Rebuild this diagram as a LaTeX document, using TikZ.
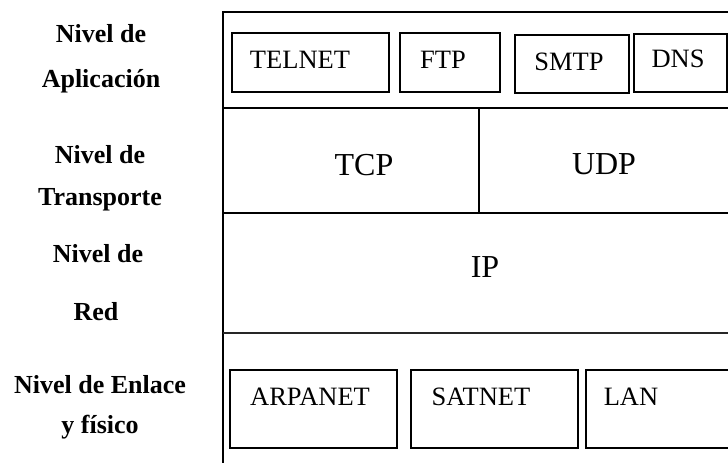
\documentclass[tikz,border=0pt]{standalone}
\usepackage{fontspec}
\setmainfont{Liberation Serif}
\begin{document}
\begin{tikzpicture}[x=1pt,y=-1pt,
  frame/.style={line width=2.4pt},
  thinrule/.style={line width=1.5pt, black!85},
  protobox/.style={draw, line width=1.8pt, rectangle, inner sep=0pt, anchor=north west},
  layername/.style={font=\fontsize{26}{30}\selectfont\bfseries, anchor=base, inner sep=0pt},
  proto/.style={font=\fontsize{26.5}{30}\selectfont, anchor=base, inner sep=0pt},
  bigproto/.style={font=\fontsize{32}{36}\selectfont, anchor=base, inner sep=0pt}]
\useasboundingbox (0,0) rectangle (728,463);
\clip (0,0) rectangle (728,463);

% layer names on the left
\node[layername] (app1) at (101,42) {Nivel de};
\node[layername] (app2) at (101,87) {Aplicación};
\node[layername] (tra1) at (100,163) {Nivel de};
\node[layername] (tra2) at (100,205) {Transporte};
\node[layername] (red1) at (98,262) {Nivel de};
\node[layername] (red2) at (96,320) {Red};
\node[layername] (enl1) at (100,393) {Nivel de Enlace};
\node[layername] (enl2) at (100,433) {y físico};

% outer frame, open to the right and bottom
\coordinate (tl) at (223,12);
\coordinate (tr) at (740,12);
\coordinate (bl) at (223,470);
\draw[frame] (tr) -- (tl) -- (bl);

% layer separators
\coordinate (s1l) at (223,108);
\coordinate (s1r) at (740,108);
\coordinate (s2l) at (223,213);
\coordinate (s2r) at (740,213);
\coordinate (s3l) at (223,333);
\coordinate (s3r) at (740,333);
\coordinate (dvt) at (479,108);
\coordinate (dvb) at (479,213);
\draw[frame] (s1l) -- (s1r);
\draw[frame] (s2l) -- (s2r);
\draw[thinrule] (s3l) -- (s3r);
\draw[frame] (dvt) -- (dvb);

% application protocols
\node[protobox, minimum width=157pt, minimum height=59pt] (telnetbox) at (231,32) {};
\node[protobox, minimum width=100pt, minimum height=59pt] (ftpbox) at (399,32) {};
\node[protobox, minimum width=114pt, minimum height=58pt] (smtpbox) at (514,34) {};
\node[protobox, minimum width=93pt, minimum height=58pt] (dnsbox) at (633,33) {};
\node[proto] (telnet) at (300,68) {TELNET};
\node[proto] (ftp) at (443,68) {FTP};
\node[proto] (smtp) at (569,70) {SMTP};
\node[proto] (dns) at (678,67) {DNS};

% transport and network
\node[bigproto] (tcp) at (364,175) {TCP};
\node[bigproto] (udp) at (604,174) {UDP};
\node[bigproto] (ip) at (485,277) {IP};

% link layer networks
\node[protobox, minimum width=167pt, minimum height=78pt] (arpabox) at (229,369) {};
\node[protobox, minimum width=167pt, minimum height=78pt] (satbox) at (410,369) {};
\node[protobox, minimum width=160pt, minimum height=78pt] (lanbox) at (585,369) {};
\node[proto] (arpanet) at (310,405) {ARPANET};
\node[proto] (satnet) at (481,405) {SATNET};
\node[proto] (lan) at (631,405) {LAN};
\end{tikzpicture}
\end{document}
